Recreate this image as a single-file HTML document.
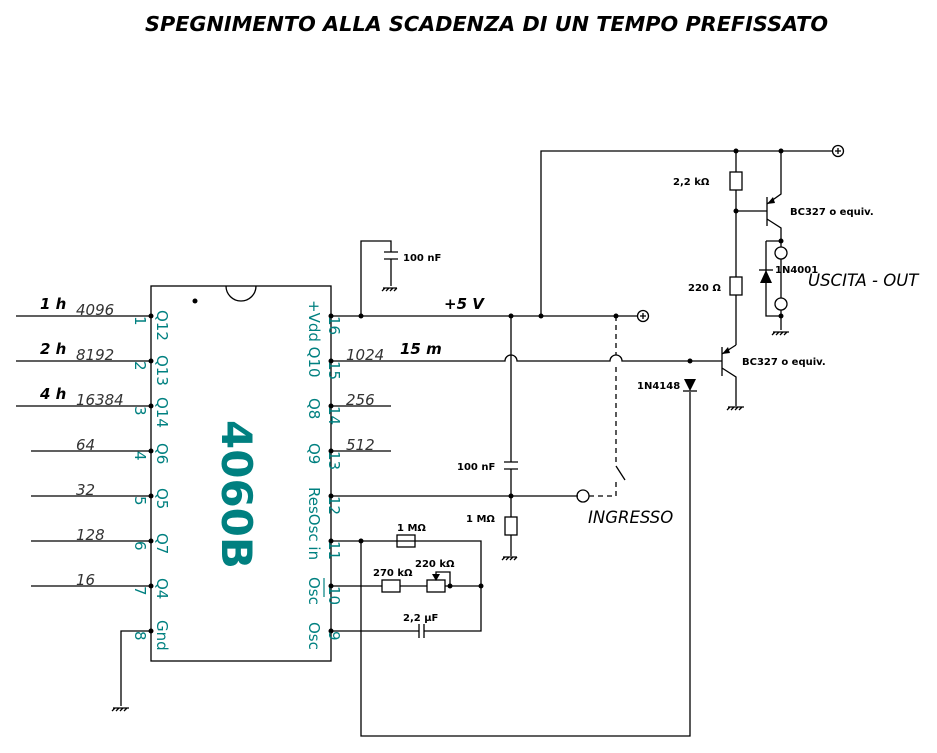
<!DOCTYPE html>
<html><head><meta charset="utf-8"><style>
html,body{margin:0;padding:0;background:#fff}
svg{display:block}
text{font-family:"DejaVu Sans","Liberation Sans",sans-serif}
.t{fill:#008080;font-size:15px}
.it{font-style:italic;fill:#333;font-size:15px}
.b{font-weight:bold;font-size:10px}
</style></head><body>
<svg width="937" height="753" viewBox="0 0 937 753" xmlns="http://www.w3.org/2000/svg" stroke-linecap="butt">
<text x="145" y="31" textLength="683" lengthAdjust="spacingAndGlyphs" font-size="20.5" font-weight="bold" font-style="italic">SPEGNIMENTO ALLA SCADENZA DI UN TEMPO PREFISSATO</text>
<g stroke="#000" stroke-width="1.3" fill="none">
<rect x="151" y="286" width="180" height="375" fill="#fff"/>
<path d="M226 286 A15 15 0 0 0 256 286" />
<path d="M16 316H151M16 361H151M16 406H151M31 451H151M31 496H151M31 541H151M31 586H151M151 631H121V706"/>
<path d="M113 708h16M115 708l-3 3M119 708l-3 3M123 708l-3 3M127 708l-3 3"/>
<path d="M331 316H637"/>
<path d="M331 361H505a6 6 0 0 1 12 0H610a6 6 0 0 1 12 0H722"/>
<path d="M331 406H391M331 451H391M331 496H578"/>
<path d="M331 541H481V631H424M419 631H331M331 586H382M400 586H427M445 586H481"/>
<path d="M419 624v14M424 624v14"/>
<rect x="397" y="535" width="18" height="12"/>
<rect x="382" y="580" width="18" height="12"/>
<rect x="427" y="580" width="18" height="12"/>
<path d="M450 586V572H436V578"/>
<path d="M361 541V736H690V392"/>
<path d="M361 316V241H391V252M391 259V286M384 252h14M384 259h14"/>
<path d="M383 288h14M385 288l-3 3M389 288l-3 3M393 288l-3 3M397 288l-3 3"/>
<path d="M541 316V151H832"/>
<circle cx="838" cy="151" r="5.5"/><path d="M835 151h6M838 148v6"/>
<circle cx="643" cy="316" r="5.5"/><path d="M640 316h6M643 313v6"/>
<path d="M511 316V462M511 469V517M511 535V556M504 462h14M504 469h14"/>
<rect x="505" y="517" width="12" height="18"/>
<path d="M503 557h14M505 557l-3 3M509 557l-3 3M513 557l-3 3M517 557l-3 3"/>
<circle cx="583" cy="496" r="6"/>
<path d="M616 316V355M616 367V466M589 496H616V482" stroke-dasharray="5 4"/>
<path d="M616 466L625 480"/>
<path d="M736 151V172M736 190V277M736 295V345M736 211H767"/>
<rect x="730" y="172" width="12" height="18"/>
<rect x="730" y="277" width="12" height="18"/>
<path d="M767 197V226M767 204L781 194V151M767 219L781 228V241M781 241V247M781 259V298M781 310V330M766 241H781M766 241V316H781"/>
<circle cx="781" cy="253" r="6"/><circle cx="781" cy="304" r="6"/>
<path d="M759 270h14"/>
<path d="M773 332h16M775 332l-3 3M779 332l-3 3M783 332l-3 3M787 332l-3 3"/>
<path d="M722 347V376M722 354L736 345M722 368L736 377V406"/>
<path d="M728 407h16M730 407l-3 3M734 407l-3 3M738 407l-3 3M742 407l-3 3"/>
<path d="M683 391h14"/>
</g>
<g fill="#000">
<polygon points="436,581 432,574 440,574"/>
<polygon points="766,270 760,283 772,283"/>
<polygon points="690,391 684,379 696,379"/>
<polygon points="767,204 773,197 775,203"/>
<polygon points="722,354 728,347 730,353"/>
<circle cx="195" cy="301" r="2.5"/>
<g id="d">
<circle cx="151" cy="316" r="2.5"/><circle cx="151" cy="361" r="2.5"/><circle cx="151" cy="406" r="2.5"/><circle cx="151" cy="451" r="2.5"/><circle cx="151" cy="496" r="2.5"/><circle cx="151" cy="541" r="2.5"/><circle cx="151" cy="586" r="2.5"/><circle cx="151" cy="631" r="2.5"/>
</g>
<use href="#d" x="180"/>
<circle cx="361" cy="316" r="2.5"/><circle cx="511" cy="316" r="2.5"/><circle cx="541" cy="316" r="2.5"/><circle cx="616" cy="316" r="2.5"/>
<circle cx="511" cy="496" r="2.5"/><circle cx="361" cy="541" r="2.5"/><circle cx="450" cy="586" r="2.5"/><circle cx="481" cy="586" r="2.5"/>
<circle cx="736" cy="151" r="2.5"/><circle cx="781" cy="151" r="2.5"/><circle cx="736" cy="211" r="2.5"/><circle cx="781" cy="241" r="2.5"/><circle cx="781" cy="316" r="2.5"/><circle cx="690" cy="361" r="2.5"/>
</g>
<g font-weight="bold" font-style="italic" font-size="15">
<text x="40" y="309">1 h</text><text x="40" y="354">2 h</text><text x="40" y="399">4 h</text>
<text x="444" y="309">+5 V</text><text x="400" y="354">15 m</text>
</g>
<g class="it">
<text x="76" y="315">4096</text><text x="76" y="360">8192</text><text x="76" y="405">16384</text>
<text x="76" y="450">64</text><text x="76" y="495">32</text><text x="76" y="540">128</text><text x="76" y="585">16</text>
<text x="346" y="360">1024</text><text x="346" y="405">256</text><text x="346" y="450">512</text>
</g>
<g class="t">
<text transform="translate(135,316) rotate(90)">1</text>
<text transform="translate(135,361) rotate(90)">2</text>
<text transform="translate(135,406) rotate(90)">3</text>
<text transform="translate(135,451) rotate(90)">4</text>
<text transform="translate(135,496) rotate(90)">5</text>
<text transform="translate(135,541) rotate(90)">6</text>
<text transform="translate(135,586) rotate(90)">7</text>
<text transform="translate(135,631) rotate(90)">8</text>
<text transform="translate(157,310) rotate(90)">Q12</text>
<text transform="translate(157,355) rotate(90)">Q13</text>
<text transform="translate(157,397) rotate(90)">Q14</text>
<text transform="translate(157,443) rotate(90)">Q6</text>
<text transform="translate(157,488) rotate(90)">Q5</text>
<text transform="translate(157,533) rotate(90)">Q7</text>
<text transform="translate(157,578) rotate(90)">Q4</text>
<text transform="translate(157,620) rotate(90)">Gnd</text>
<text transform="translate(309,300) rotate(90)">+Vdd Q10</text>
<text transform="translate(309,398) rotate(90)">Q8</text>
<text transform="translate(309,443) rotate(90)">Q9</text>
<text transform="translate(309,487) rotate(90)">ResOsc in</text>
<text transform="translate(309,577) rotate(90)">Osc</text>
<text transform="translate(309,622) rotate(90)">Osc</text>
<text transform="translate(329,316) rotate(90)">16</text>
<text transform="translate(329,361) rotate(90)">15</text>
<text transform="translate(329,406) rotate(90)">14</text>
<text transform="translate(329,451) rotate(90)">13</text>
<text transform="translate(329,496) rotate(90)">12</text>
<text transform="translate(329,541) rotate(90)">11</text>
<text transform="translate(329,586) rotate(90)">10</text>
<text transform="translate(329,631) rotate(90)">9</text>
<text transform="translate(222,420) rotate(90)" font-size="42" font-weight="bold">4060B</text>
</g>
<path d="M324 578V597" stroke="#008080" stroke-width="1.2"/>
<g class="b">
<text x="403" y="261">100 nF</text>
<text x="457" y="470">100 nF</text>
<text x="466" y="522">1 MΩ</text>
<text x="397" y="531">1 MΩ</text>
<text x="373" y="576">270 kΩ</text>
<text x="415" y="567">220 kΩ</text>
<text x="403" y="621">2,2 µF</text>
<text x="673" y="185">2,2 kΩ</text>
<text x="688" y="291">220 Ω</text>
<text x="790" y="215">BC327 o equiv.</text>
<text x="742" y="365">BC327 o equiv.</text>
<text x="775" y="273">1N4001</text>
<text x="637" y="389">1N4148</text>
</g>
<text x="808" y="286" font-style="italic" font-size="16.5">USCITA - OUT</text>
<text x="588" y="523" font-style="italic" font-size="16.5">INGRESSO</text>
</svg>
</body></html>
